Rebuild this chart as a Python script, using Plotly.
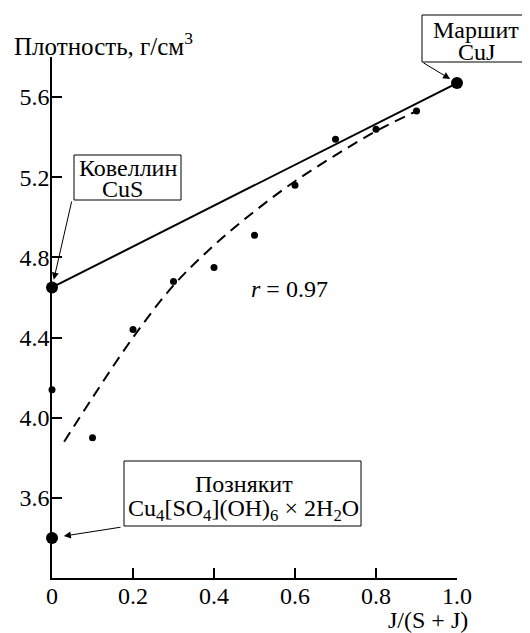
import plotly.graph_objects as go

# ---- data ----
x_points = [0.0, 0.1, 0.2, 0.3, 0.4, 0.5, 0.6, 0.7, 0.8, 0.9]
y_points = [4.14, 3.90, 4.44, 4.68, 4.75, 4.91, 5.16, 5.39, 5.44, 5.53]

x_minerals = [0.0, 1.0, 0.0]
y_minerals = [4.65, 5.67, 3.40]
mineral_names = ["Ковеллин", "Маршит", "Познякит"]
mineral_formulas = ["CuS", "CuJ",
                    "Cu<sub>4</sub>[SO<sub>4</sub>](OH)<sub>6</sub> × 2H<sub>2</sub>O"]

x_line = [0.0, 1.0]
y_line = [4.65, 5.67]

x_curve = [0.03, 0.1, 0.2, 0.3, 0.4, 0.5, 0.6, 0.7, 0.8, 0.9]
y_curve = [3.88, 4.10, 4.40, 4.66, 4.86, 5.03, 5.18, 5.31, 5.43, 5.53]

x_ticks = [0, 0.2, 0.4, 0.6, 0.8, 1.0]
x_ticklabels = ["0", "0.2", "0.4", "0.6", "0.8", "1.0"]
y_ticks = [3.6, 4.0, 4.4, 4.8, 5.2, 5.6]
y_ticklabels = ["3.6", "4.0", "4.4", "4.8", "5.2", "5.6"]

r_text = "<i>r</i> = 0.97"
y_title = "Плотность, г/см<sup>3</sup>"
x_title = "J/(S + J)"

# ---- layout geometry (page pixels; the page body adds an 8px offset) ----
OFF = 8
W, H = 530 - OFF, 633 - OFF
L, R, T, B = 52 - OFF, 73, 57 - OFF, 55
PW, PH = W - L - R, H - T - B
FONT = "Liberation Serif"
FS = 24
YMIN, YMAX = 3.2, 5.8


def px(xp):
    return (xp - OFF - L) / PW


def py(yp):
    return 1 - (yp - OFF - T) / PH


def tfont(size=FS):
    return dict(family=FONT, size=size, color="black")


fig = go.Figure()

fig.add_trace(go.Scatter(x=x_curve, y=y_curve, mode="lines",
                         line=dict(color="black", width=2, dash="11px,7px", shape="spline"),
                         hoverinfo="skip"))
fig.add_trace(go.Scatter(x=x_line, y=y_line, mode="lines",
                         line=dict(color="black", width=2), hoverinfo="skip"))
fig.add_trace(go.Scatter(x=x_points, y=y_points, mode="markers",
                         marker=dict(color="black", size=7), cliponaxis=False))
fig.add_trace(go.Scatter(x=x_minerals, y=y_minerals, mode="markers",
                         marker=dict(color="black", size=12), cliponaxis=False,
                         text=mineral_names, hoverinfo="text"))

shapes = []
annotations = []
# label boxes (page pixels)
boxes = [(74, 181, 155, 200), (422, 534, 15, 62), (124, 361, 461, 526)]
# line centres (page pixels): (x1, y1, x2, y2)
line_pos = [(128, 168, 122, 189), (476, 30, 476, 52), (244, 484, 243, 510)]
for i, ((x0, x1, y0, y1), (lx1, ly1, lx2, ly2)) in enumerate(zip(boxes, line_pos)):
    shapes.append(dict(type="rect", xref="paper", yref="paper",
                       x0=px(x0), x1=px(x1), y0=py(y1), y1=py(y0),
                       line=dict(color="black", width=1), fillcolor="white", layer="above"))
    annotations.append(dict(text=mineral_names[i], xref="paper", yref="paper",
                            x=px(lx1), y=py(ly1), xanchor="center", yanchor="middle",
                            showarrow=False, font=tfont()))
    annotations.append(dict(text=mineral_formulas[i], xref="paper", yref="paper",
                            x=px(lx2), y=py(ly2), xanchor="center", yanchor="middle",
                            showarrow=False, font=tfont()))

arrow_starts = [(72, 200), (422, 62), (122, 527)]
arrow_standoff = [8, 8, 12]
for (sx, sy), ex, ey, so in zip(arrow_starts, x_minerals, y_minerals, arrow_standoff):
    tx = OFF + L + ex * PW
    ty = OFF + T + (YMAX - ey) / (YMAX - YMIN) * PH
    annotations.append(dict(
        text="", x=ex, y=ey, xref="x", yref="y",
        ax=sx - tx, ay=sy - ty, showarrow=True,
        arrowhead=2, arrowsize=1.4, arrowwidth=1, arrowcolor="black",
        standoff=so))

annotations.append(dict(text=r_text, xref="paper", yref="paper",
                        x=px(249), y=py(289), xanchor="left", yanchor="middle",
                        showarrow=False, font=tfont()))
annotations.append(dict(text=y_title, xref="paper", yref="paper",
                        x=px(12), y=py(44), xanchor="left", yanchor="middle",
                        showarrow=False, font=tfont(25)))
annotations.append(dict(text=x_title, xref="paper", yref="paper",
                        x=px(428), y=py(620), xanchor="center", yanchor="middle",
                        showarrow=False, font=tfont()))

axis_common = dict(ticks="inside", ticklen=10, tickwidth=1.5, tickcolor="black",
                   showline=True, linecolor="black", linewidth=1.5, automargin=False,
                   tickfont=tfont(), showgrid=False, zeroline=False, fixedrange=True)

fig.update_layout(
    width=W, height=H,
    margin=dict(l=L, r=R, t=T, b=B, autoexpand=False),
    paper_bgcolor="white", plot_bgcolor="white",
    showlegend=False,
    font=tfont(),
    shapes=shapes,
    annotations=annotations,
    xaxis=dict(range=[0, 1.0], tickvals=x_ticks, ticktext=x_ticklabels,
               ticklabelstandoff=-5, **axis_common),
    yaxis=dict(range=[YMIN, YMAX], tickvals=y_ticks, ticktext=y_ticklabels,
               ticklabelstandoff=-4, **axis_common),
)

fig.write_html("out.html")
